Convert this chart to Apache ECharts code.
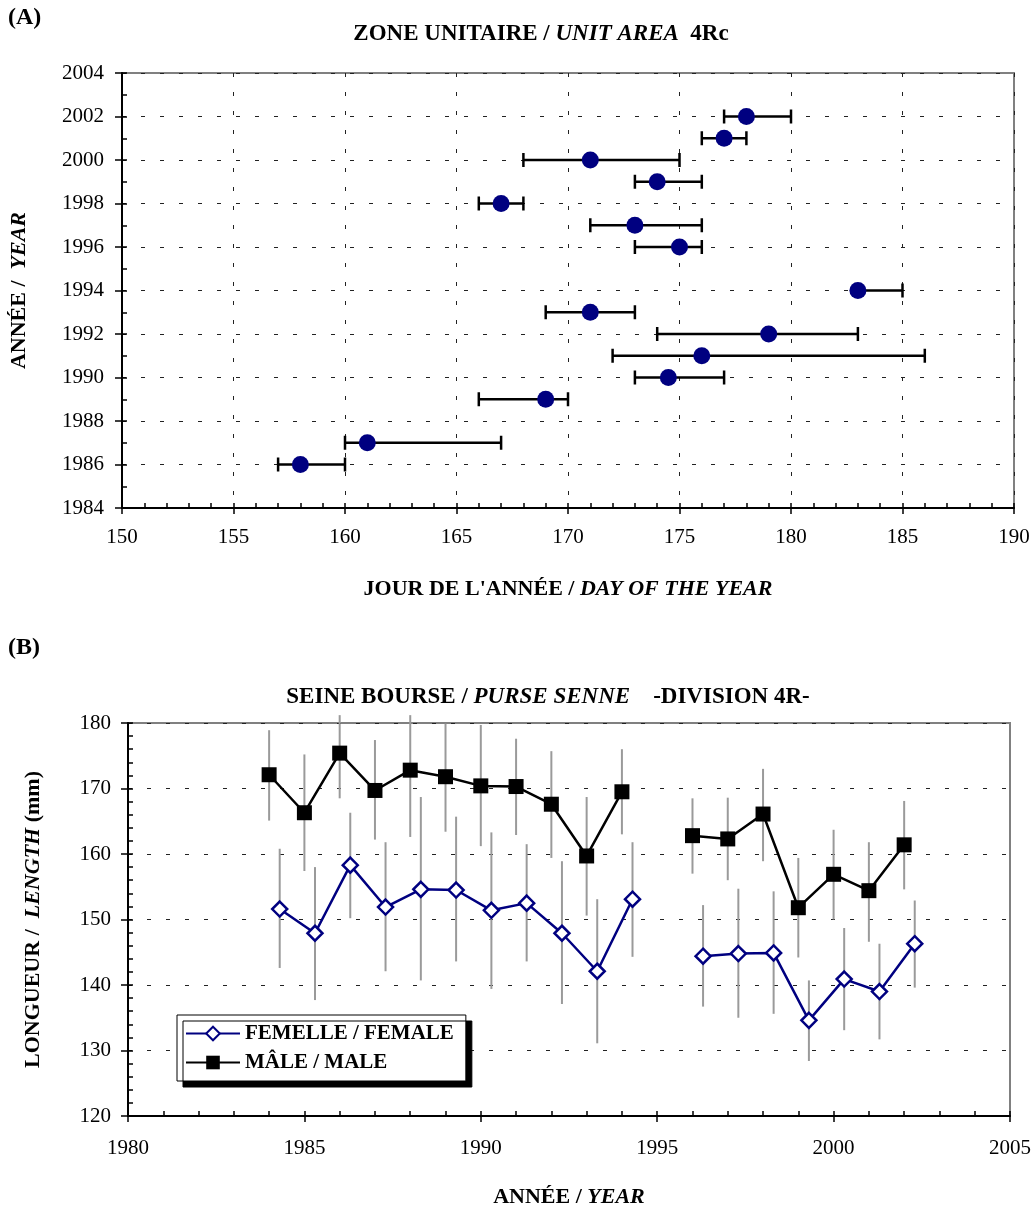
<!DOCTYPE html>
<html>
<head>
<meta charset="utf-8">
<script src="https://cdn.jsdelivr.net/npm/echarts@6/dist/echarts.min.js"></script>
<style>
  html, body { margin: 0; padding: 0; background: #fff; }
  #chart { width: 1034px; height: 1209px; }
</style>
</head>
<body>
<div id="chart"></div>
<script>
// (A) Spawning date by year: mean day of year with its range
const spawnYears = [1986, 1987, 1989, 1990, 1991, 1992, 1993, 1994, 1996, 1997, 1998, 1999, 2000, 2001, 2002];
const spawnDay   = [158, 161, 169, 174.5, 176, 179, 171, 183, 175, 173, 167, 174, 171, 177, 178];
const spawnLow   = [157, 160, 166, 173, 172, 174, 169, 183, 173, 171, 166, 173, 168, 176, 177];
const spawnHigh  = [160, 167, 170, 177, 186, 183, 173, 185, 176, 176, 168, 176, 175, 178, 180];

// (B) Mean length (mm) by year, purse seine, with ± one standard deviation
const maleYears   = [1984, 1985, 1986, 1987, 1988, 1989, 1990, 1991, 1992, 1993, 1994, 1995, 1996, 1997, 1998, 1999, 2000, 2001, 2002];
const maleLength  = [172.1, 166.3, 175.4, 169.7, 172.8, 171.8, 170.4, 170.3, 167.6, 159.7, 169.5, null, 162.8, 162.3, 166.1, 151.8, 156.9, 154.4, 161.4];
const maleLow     = [165.1, 157.4, 168.5, 162.2, 162.6, 163.4, 161.2, 162.9, 159.4, 150.6, 163.0, null, 157.0, 156.0, 158.9, 144.2, 150.0, 146.6, 154.6];
const maleHigh    = [178.9, 175.2, 181.2, 177.4, 181.2, 179.9, 179.7, 177.6, 175.7, 168.7, 176.0, null, 168.5, 168.6, 173.0, 159.4, 163.7, 161.8, 168.1];

const femaleYears  = [1984.3, 1985.3, 1986.3, 1987.3, 1988.3, 1989.3, 1990.3, 1991.3, 1992.3, 1993.3, 1994.3, 1995.3, 1996.3, 1997.3, 1998.3, 1999.3, 2000.3, 2001.3, 2002.3];
const femaleLength = [151.6, 147.9, 158.3, 151.9, 154.6, 154.5, 151.4, 152.5, 147.9, 142.1, 153.1, null, 144.4, 144.8, 144.9, 134.6, 140.9, 139.0, 146.3];
const femaleLow    = [142.6, 137.7, 150.2, 142.1, 140.7, 143.6, 139.4, 143.6, 137.1, 131.1, 144.3, null, 136.7, 135.0, 135.6, 128.4, 133.1, 131.7, 139.6];
const femaleHigh   = [160.8, 158.0, 166.3, 161.8, 168.7, 165.7, 163.3, 161.5, 158.9, 153.1, 161.8, null, 152.2, 154.7, 154.3, 140.7, 148.7, 146.3, 152.9];

const FONT = "'Liberation Serif', 'Times New Roman', serif";
const NAVY = '#000080';

function richSet(size) {
  return {
    b:  { fontFamily: FONT, fontWeight: 'bold', fontSize: size, color: '#000' },
    bi: { fontFamily: FONT, fontWeight: 'bold', fontStyle: 'italic', fontSize: size, color: '#000' }
  };
}
const axisRich = richSet(22);
const titleRich = richSet(23);

const gridDash = { color: '#222', width: 1, type: [4, 15] };
const plain = v => String(v);

function mainAxisCommon(min, max, interval, labelMargin) {
  return {
    type: 'value', min, max, interval,
    axisLine: { show: true, onZero: false, lineStyle: { color: '#000', width: 2 } },
    axisTick: { show: true, inside: false, length: 7, lineStyle: { color: '#000', width: 1.5 } },
    axisLabel: { fontFamily: FONT, fontSize: 21, color: '#000', margin: labelMargin, formatter: plain },
    nameTextStyle: { rich: axisRich }
  };
}

// inside minor ticks drawn by an overlaid, label-less axis
function minorAxis(gridIndex, position, min, max, interval, len) {
  return {
    type: 'value', gridIndex, position, min, max, interval,
    axisLine: { show: false },
    axisLabel: { show: false },
    splitLine: { show: false },
    axisTick: { show: true, inside: true, length: len, lineStyle: { color: '#000', width: 1.5 } }
  };
}

const hBarData = spawnYears.map((y, i) => [y, spawnLow[i], spawnHigh[i]]);
const spawnPoints = spawnYears.map((y, i) => [spawnDay[i], y]);

const orGap = v => (v === null ? '-' : v);
const malePoints = maleYears.map((y, i) => [y, orGap(maleLength[i])]);
const femalePoints = femaleYears.map((y, i) => [y, orGap(femaleLength[i])]);
const maleBars = maleYears.map((y, i) => [y, maleLow[i], maleHigh[i]]).filter(d => d[1] !== null);
const femaleBars = femaleYears.map((y, i) => [y, femaleLow[i], femaleHigh[i]]).filter(d => d[1] !== null);

function renderHBar(params, api) {
  const y = api.value(0);
  const a = api.coord([api.value(1), y]);
  const b = api.coord([api.value(2), y]);
  const cap = 7;
  const st = { stroke: '#000', lineWidth: 2.5 };
  return {
    type: 'group',
    children: [
      { type: 'line', shape: { x1: a[0], y1: a[1], x2: b[0], y2: b[1] }, style: st },
      { type: 'line', shape: { x1: a[0], y1: a[1] - cap, x2: a[0], y2: a[1] + cap }, style: st },
      { type: 'line', shape: { x1: b[0], y1: b[1] - cap, x2: b[0], y2: b[1] + cap }, style: st }
    ]
  };
}

function renderVBar(params, api) {
  const x = api.value(0);
  const a = api.coord([x, api.value(1)]);
  const b = api.coord([x, api.value(2)]);
  return {
    type: 'line',
    shape: { x1: a[0], y1: a[1], x2: b[0], y2: b[1] },
    style: { stroke: '#9a9a9a', lineWidth: 2 }
  };
}

const chart = echarts.init(document.getElementById('chart'), null, { renderer: 'canvas' });

const topX = Object.assign(mainAxisCommon(150, 190, 5, 19), {
  gridIndex: 0, position: 'bottom',
  splitLine: { show: true, lineStyle: gridDash },
  name: "{b|JOUR DE L'ANNÉE / }{bi|DAY OF THE YEAR}",
  nameLocation: 'middle', nameGap: 70
});
topX.axisTick.length = 6;

const topY = Object.assign(mainAxisCommon(1984, 2004, 2, 18), {
  gridIndex: 0, position: 'left',
  splitLine: { show: true, lineStyle: gridDash },
  name: '{b|ANNÉE /  }{bi|YEAR}',
  nameLocation: 'middle', nameRotate: 90, nameGap: 92
});

const botX = Object.assign(mainAxisCommon(1980, 2005, 5, 22), {
  gridIndex: 1, position: 'bottom',
  splitLine: { show: false },
  name: '{b|ANNÉE / }{bi|YEAR}',
  nameLocation: 'middle', nameGap: 70
});
botX.axisTick.length = 6;

const botY = Object.assign(mainAxisCommon(120, 180, 10, 17), {
  gridIndex: 1, position: 'left',
  splitLine: { show: true, lineStyle: gridDash },
  name: '{b|LONGUEUR /  }{bi|LENGTH}{b| (mm)}',
  nameLocation: 'middle', nameRotate: 90, nameGap: 84
});

const option = {
  backgroundColor: '#fff',
  animation: false,
  graphic: [
    { type: 'text', left: 8, top: 6, style: { text: '(A)', font: "bold 24px " + FONT, fill: '#000' } },
    { type: 'text', left: 8, top: 636, style: { text: '(B)', font: "bold 24px " + FONT, fill: '#000' } },
    { type: 'text', x: 541, y: 34, style: {
        text: '{b|ZONE UNITAIRE / }{bi|UNIT AREA}{b|  4Rc}', rich: titleRich,
        textAlign: 'center', textVerticalAlign: 'middle' } },
    { type: 'text', x: 548, y: 697, style: {
        text: '{b|SEINE BOURSE / }{bi|PURSE SENNE}{b|    -DIVISION 4R-}', rich: titleRich,
        textAlign: 'center', textVerticalAlign: 'middle' } }
  ],
  grid: [
    { left: 121, top: 73, width: 893, height: 435, show: true, borderColor: '#808080', borderWidth: 2, backgroundColor: 'transparent' },
    { left: 128, top: 723, width: 892, height: 401, show: true, borderColor: '#808080', borderWidth: 2, backgroundColor: 'transparent' }
  ],
  xAxis: [
    topX,
    minorAxis(0, 'bottom', 150, 190, 1, 5),
    botX,
    minorAxis(1, 'bottom', 1980, 2005, 1, 5)
  ],
  yAxis: [
    topY,
    minorAxis(0, 'left', 1984, 2004, 1, 5),
    botY,
    minorAxis(1, 'left', 120, 180, 2, 5)
  ],
  legend: {
    data: ['FEMELLE / FEMALE', 'MÂLE / MALE'],
    orient: 'vertical',
    left: 177, top: 1015,
    padding: [8, 12, 8, 8],
    itemGap: 8,
    itemWidth: 54, itemHeight: 17,
    backgroundColor: '#fff',
    borderColor: '#000', borderWidth: 1, borderRadius: 0,
    shadowColor: '#000', shadowBlur: 0, shadowOffsetX: 6, shadowOffsetY: 6,
    textStyle: { fontFamily: FONT, fontWeight: 'bold', fontSize: 21, color: '#000' }
  },
  series: [
    {
      type: 'custom', name: 'range', xAxisIndex: 0, yAxisIndex: 0,
      renderItem: renderHBar, data: hBarData,
      encode: { x: [1, 2], y: 0 }, z: 2, silent: true
    },
    {
      type: 'scatter', name: 'day', xAxisIndex: 0, yAxisIndex: 0,
      data: spawnPoints, symbol: 'circle', symbolSize: 17,
      itemStyle: { color: NAVY, opacity: 1 }, z: 3
    },
    {
      type: 'custom', name: 'sd-f', xAxisIndex: 2, yAxisIndex: 2,
      renderItem: renderVBar, data: femaleBars,
      encode: { x: 0, y: [1, 2] }, z: 1, silent: true
    },
    {
      type: 'custom', name: 'sd-m', xAxisIndex: 2, yAxisIndex: 2,
      renderItem: renderVBar, data: maleBars,
      encode: { x: 0, y: [1, 2] }, z: 1, silent: true
    },
    {
      type: 'line', name: 'FEMELLE / FEMALE', xAxisIndex: 2, yAxisIndex: 2,
      data: femalePoints, connectNulls: false,
      symbol: 'diamond', symbolSize: 15, showAllSymbol: true,
      lineStyle: { color: NAVY, width: 2.5 },
      itemStyle: { color: '#fff', borderColor: NAVY, borderWidth: 2.5 },
      z: 4
    },
    {
      type: 'line', name: 'MÂLE / MALE', xAxisIndex: 2, yAxisIndex: 2,
      data: malePoints, connectNulls: false,
      symbol: 'rect', symbolSize: 15, showAllSymbol: true,
      lineStyle: { color: '#000', width: 2.5 },
      itemStyle: { color: '#000', borderColor: '#000', borderWidth: 0 },
      z: 5
    }
  ]
};

chart.setOption(option);
</script>
</body>
</html>
